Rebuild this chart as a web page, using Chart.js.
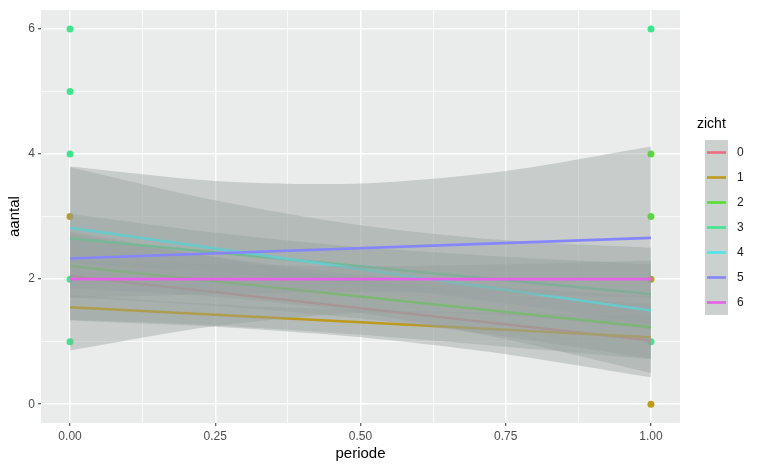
<!DOCTYPE html>
<html>
<head>
<meta charset="utf-8">
<script src="https://cdn.jsdelivr.net/npm/chart.js@4.4.1/dist/chart.umd.min.js"></script>
<style>
    html, body { margin: 0; padding: 0; background: #ffffff; }
    #wrap { width: 761px; height: 470px; }
</style>
</head>
<body>
<div id="wrap"><canvas id="chart" width="761" height="470"></canvas></div>
<script>
// levels of "zicht"
const zicht = ['0', '1', '2', '3', '4', '5', '6'];
const zichtColors = ['#EB6F7E', '#BE9A1C', '#4FE22F', '#3FE58B', '#4EE6E9', '#8585FF', '#E463E6'];

// fitted line per level, at periode 0 and 1
const fitX = [0, 1];
const fitStart = [2.05, 1.55, 2.21, 2.65, 2.82, 2.33, 2.00];
const fitEnd = [1.02, 1.07, 1.23, 1.76, 1.50, 2.66, 2.00];

// confidence bands
const bandX = [0, 0.25, 0.5, 0.75, 1];
const bandUpper = [
    [2.76, 2.35, 2.00, 1.75, 1.61],
    [1.75, 1.60, 1.51, 1.46, 1.42],
    [2.71, 2.36, 2.07, 1.87, 1.73],
    [3.04, 2.74, 2.51, 2.36, 2.24],
    [3.79, 3.26, 2.86, 2.62, 2.50],
    [3.80, 3.57, 3.53, 3.73, 4.12],
    [2.30, 2.24, 2.21, 2.24, 2.30]
];
const bandLower = [
    [1.34, 1.24, 1.07, 0.80, 0.43],
    [1.35, 1.26, 1.11, 0.92, 0.72],
    [1.71, 1.57, 1.37, 1.08, 0.73],
    [2.26, 2.11, 1.90, 1.61, 1.28],
    [1.85, 1.72, 1.46, 1.04, 0.50],
    [0.86, 1.25, 1.46, 1.42, 1.20],
    [1.70, 1.76, 1.79, 1.76, 1.70]
];

// observed points (visible ones)
const pointX = [0, 0, 0, 0, 0, 0, 1, 1, 1, 1, 1, 1];
const pointY = [6, 5, 4, 3, 2, 1, 6, 4, 3, 2, 1, 0];
const pointGroup = [3, 3, 3, 1, 3, 3, 3, 2, 2, 1, 3, 1];

const xTicks = [0, 0.25, 0.5, 0.75, 1];
const xMinor = [0.125, 0.375, 0.625, 0.875];
const yTicks = [0, 2, 4, 6];
const yMinor = [1, 3, 5];

const panelBg = '#E9ECEA';
const bandFill = 'rgba(150, 160, 158, 0.4)';
const fontFamily = "'Liberation Sans', Arial, Helvetica, sans-serif";

// build datasets in drawing order, then give "order" so the first drawn sits lowest
const drawList = [];
drawList.push({
    type: 'scatter',
    data: pointX.map((x, i) => ({ x: x, y: pointY[i] })),
    pointBackgroundColor: pointGroup.map(g => zichtColors[g]),
    pointBorderWidth: 0,
    pointRadius: 3.5,
    showLine: false
});
zicht.forEach((z, g) => {
    drawList.push({
        type: 'line',
        data: bandX.map((x, i) => ({ x: x, y: bandUpper[g][i] })),
        borderWidth: 0,
        pointRadius: 0,
        backgroundColor: bandFill,
        fill: '+1',
        tension: 0.3
    });
    drawList.push({
        type: 'line',
        data: bandX.map((x, i) => ({ x: x, y: bandLower[g][i] })),
        borderWidth: 0,
        pointRadius: 0,
        fill: false,
        tension: 0.3
    });
    drawList.push({
        type: 'line',
        label: z,
        data: [{ x: fitX[0], y: fitStart[g] }, { x: fitX[1], y: fitEnd[g] }],
        borderColor: zichtColors[g],
        borderWidth: 2.6,
        pointRadius: 0,
        fill: false
    });
});
drawList.forEach((d, i) => { d.order = drawList.length - i; });

const panelPlugin = {
    id: 'panel',
    beforeDraw(chart) {
        const { ctx, chartArea: a } = chart;
        ctx.save();
        ctx.fillStyle = '#ffffff';
        ctx.fillRect(0, 0, chart.width, chart.height);
        ctx.fillStyle = panelBg;
        ctx.fillRect(a.left, a.top, a.right - a.left, a.bottom - a.top);
        ctx.restore();
    }
};

const legendPlugin = {
    id: 'zichtLegend',
    afterDraw(chart) {
        const ctx = chart.ctx;
        ctx.save();
        ctx.fillStyle = '#000000';
        ctx.font = '14px ' + fontFamily;
        ctx.textBaseline = 'middle';
        ctx.fillText('zicht', 697, 124);
        const top = 140, keyH = 25;
        ctx.fillStyle = '#CBD1CF';
        ctx.fillRect(705, top, 23, keyH * zicht.length);
        zicht.forEach((z, g) => {
            const cy = top + keyH * g + keyH / 2;
            ctx.strokeStyle = zichtColors[g];
            ctx.lineWidth = 2.6;
            ctx.beginPath();
            ctx.moveTo(707, cy);
            ctx.lineTo(726, cy);
            ctx.stroke();
            ctx.fillStyle = '#1a1a1a';
            ctx.font = '12px ' + fontFamily;
            ctx.fillText(z, 737, cy);
        });
        ctx.restore();
    }
};

function gridWidth(minor) {
    return ctx => (minor.includes(ctx.tick && ctx.tick.value) ? 0.7 : 1.5);
}
function tickMarkColor(minor) {
    return ctx => (minor.includes(ctx.tick && ctx.tick.value) ? 'rgba(0,0,0,0)' : '#333333');
}

new Chart(document.getElementById('chart'), {
    data: { datasets: drawList },
    options: {
        responsive: false,
        animation: false,
        layout: { padding: { top: 8, right: 81, bottom: 0, left: 0 } },
        plugins: {
            legend: { display: false },
            tooltip: { enabled: false }
        },
        scales: {
            x: {
                type: 'linear',
                min: -0.05,
                max: 1.05,
                afterBuildTicks: scale => {
                    scale.ticks = xTicks.concat(xMinor).sort((a, b) => a - b).map(v => ({ value: v }));
                },
                afterFit: scale => { scale.height = 47; },
                ticks: {
                    autoSkip: false,
                    maxRotation: 0,
                    color: '#4D4D4D',
                    font: { size: 12, family: fontFamily },
                    padding: 3,
                    callback: v => (xTicks.includes(v) ? v.toFixed(2) : '')
                },
                grid: {
                    color: '#ffffff',
                    lineWidth: gridWidth(xMinor),
                    tickColor: tickMarkColor(xMinor),
                    tickLength: 3,
                    tickWidth: 1
                },
                border: { display: false },
                title: {
                    display: true,
                    text: 'periode',
                    color: '#000000',
                    font: { size: 15, family: fontFamily },
                    padding: { top: 0, bottom: 7 }
                }
            },
            y: {
                type: 'linear',
                min: -0.3,
                max: 6.3,
                afterBuildTicks: scale => {
                    scale.ticks = yTicks.concat(yMinor).sort((a, b) => a - b).map(v => ({ value: v }));
                },
                afterFit: scale => { scale.width = 41; },
                ticks: {
                    autoSkip: false,
                    color: '#4D4D4D',
                    font: { size: 12, family: fontFamily },
                    padding: 3,
                    callback: v => (yTicks.includes(v) ? String(v) : '')
                },
                grid: {
                    color: '#ffffff',
                    lineWidth: gridWidth(yMinor),
                    tickColor: tickMarkColor(yMinor),
                    tickLength: 3,
                    tickWidth: 1
                },
                border: { display: false },
                title: {
                    display: true,
                    text: 'aantal',
                    color: '#000000',
                    font: { size: 15, family: fontFamily },
                    padding: { top: 6, bottom: 0 }
                }
            }
        }
    },
    plugins: [panelPlugin, legendPlugin]
});
</script>
</body>
</html>
